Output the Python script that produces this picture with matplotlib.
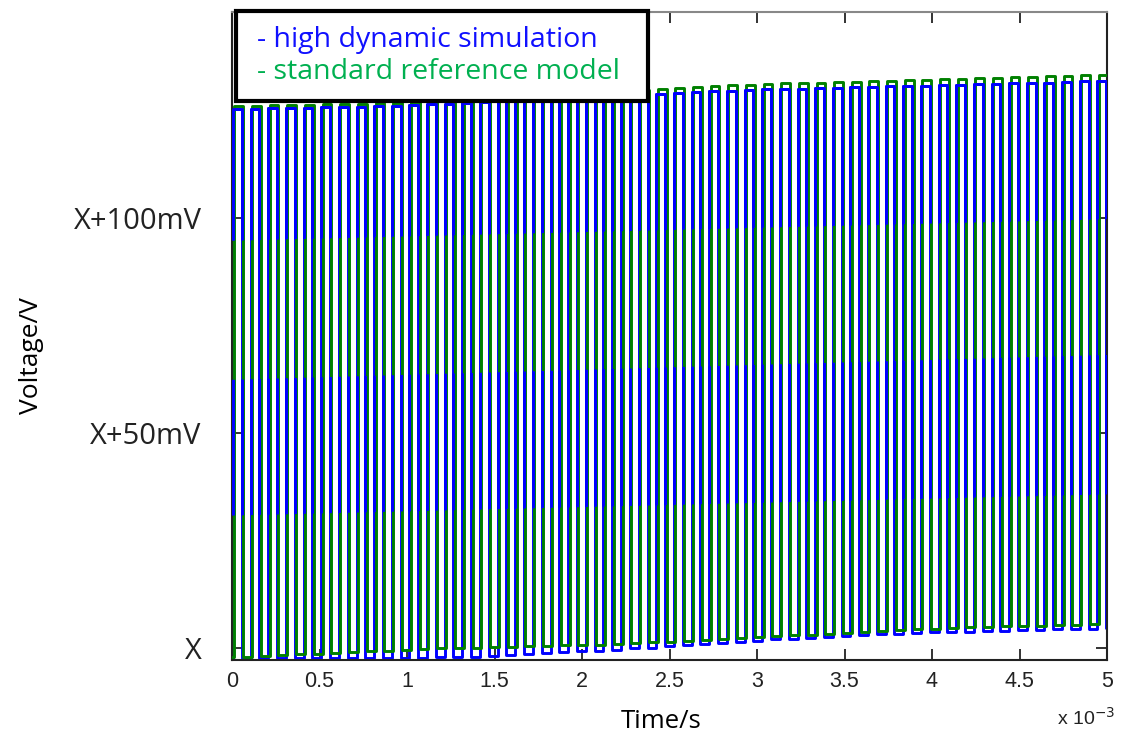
import matplotlib
matplotlib.use("Agg")
import matplotlib.pyplot as plt
from matplotlib.patches import Rectangle, PathPatch
from matplotlib.path import Path
import numpy as np

# ---------------- data (mV relative to X, time in ms) ----------------
pulse_period_ms = 0.1008
pulse_high_ms = 0.050
blue_first_edge_ms = 0.006
green_first_edge_ms = 0.014

blue_high = [125.3, 125.4, 125.5, 125.5, 125.6, 125.7, 125.8, 125.9, 126.0, 126.1,
             126.2, 126.4, 126.5, 126.7, 126.9, 127.1, 127.3, 127.5, 127.7, 127.9,
             128.1, 128.3, 128.5, 128.7, 128.9, 129.1, 129.3, 129.5, 129.6, 129.8,
             129.9, 130.0, 130.1, 130.2, 130.3, 130.4, 130.5, 130.6, 130.7, 130.8,
             130.9, 131.0, 131.1, 131.2, 131.3, 131.4, 131.5, 131.6, 131.8, 131.9]
blue_low = [-2.4, -2.4, -2.4, -2.4, -2.4, -2.4, -2.4, -2.4, -2.3, -2.3,
            -2.3, -2.2, -2.1, -2.0, -1.8, -1.6, -1.4, -1.2, -1.0, -0.8,
            -0.6, -0.4, -0.1, 0.1, 0.4, 0.7, 0.9, 1.2, 1.5, 1.7,
            2.0, 2.2, 2.4, 2.6, 2.8, 3.0, 3.2, 3.3, 3.5, 3.6,
            3.7, 3.8, 3.9, 4.0, 4.1, 4.2, 4.3, 4.4, 4.5, 4.6]
green_high = [126.0, 126.1, 126.2, 126.3, 126.3, 126.4, 126.5, 126.6, 126.7, 126.8,
              126.9, 127.1, 127.3, 127.5, 127.7, 127.9, 128.1, 128.3, 128.5, 128.7,
              128.9, 129.2, 129.5, 129.8, 130.1, 130.3, 130.5, 130.7, 130.9, 131.0,
              131.2, 131.3, 131.4, 131.5, 131.6, 131.7, 131.8, 131.9, 132.0, 132.2,
              132.3, 132.4, 132.5, 132.6, 132.7, 132.8, 132.9, 133.0, 133.2, 133.3]
green_low = [-2.1, -1.9, -1.7, -1.5, -1.3, -1.2, -1.0, -0.8, -0.6, -0.4,
             -0.3, -0.1, 0.0, 0.1, 0.2, 0.3, 0.4, 0.5, 0.6, 0.7,
             0.8, 0.9, 1.1, 1.3, 1.5, 1.7, 1.9, 2.1, 2.3, 2.5,
             2.7, 2.9, 3.1, 3.3, 3.5, 3.7, 3.9, 4.1, 4.3, 4.5,
             4.7, 4.8, 4.9, 5.0, 5.1, 5.2, 5.3, 5.4, 5.6, 5.7]

x_ticks = [0, 0.5, 1, 1.5, 2, 2.5, 3, 3.5, 4, 4.5, 5]
x_tick_labels = ["0", "0.5", "1", "1.5", "2", "2.5", "3", "3.5", "4", "4.5", "5"]
y_ticks = [0, 50, 100]
y_tick_labels = ["X", "X+50mV", "X+100mV"]
legend_labels = ["- high dynamic simulation", "- standard reference model"]

# style: horizontal bands (in mV, at left/right edge) where the blue trace
# visually lies on top of the green one in the reference rendering
blue_top_bands = [((93.7, 160.0), (100.7, 160.0)), ((29.8, 61.2), (36.7, 69.3))]


def square_wave(first_edge, highs, lows):
    t = [0.0]
    v = [lows[0]]
    for k, (hi, lo) in enumerate(zip(highs, lows)):
        rise = first_edge + k * pulse_period_ms
        fall = rise + pulse_high_ms
        prev_lo = lows[k - 1] if k > 0 else lows[0]
        t += [rise, rise, fall, fall]
        v += [prev_lo, hi, hi, lo]
    t.append(5.2)
    v.append(lows[-1])
    return np.array(t), np.array(v)


W, H = 1122, 738
fig = plt.figure(figsize=(W / 100, H / 100), dpi=100)
ax = fig.add_axes([232 / W, 78 / H, 875 / W, 648 / H])
ax.set_xlim(0, 5)
ax.set_ylim(-2.8, 147.9)

tb, vb = square_wave(blue_first_edge_ms, blue_high, blue_low)
tg, vg = square_wave(green_first_edge_ms, green_high, green_low)
ax.plot(tb, vb, color="#0000ff", lw=2.1, zorder=2)
ax.plot(tg, vg, color="#008000", lw=2.1, zorder=3)
blue_top, = ax.plot(tb, vb, color="#0000ff", lw=2.1, zorder=4)

verts, codes = [], []
for (l0, l1), (r0, r1) in blue_top_bands:
    verts += [(-1, l0), (6, r0), (6, r1), (-1, l1), (-1, l0)]
    codes += [Path.MOVETO, Path.LINETO, Path.LINETO, Path.LINETO, Path.CLOSEPOLY]
clip = PathPatch(Path(verts, codes), transform=ax.transData, visible=False)
ax.add_patch(clip)
blue_top.set_clip_path(clip)

ax.set_xticks(x_ticks)
ax.set_xticklabels(x_tick_labels, fontfamily="Liberation Sans", fontsize=15.5)
ax.set_yticks(y_ticks)
ax.set_yticklabels(y_tick_labels, fontfamily="Open Sans", fontsize=21)
ax.tick_params(direction="in", length=8, width=1.3, top=True, right=True,
               colors="#222222")
ax.tick_params(axis="y", pad=22)
ax.tick_params(axis="x", pad=8)
for s in ax.spines.values():
    s.set_linewidth(1.5)
    s.set_color("#222222")
ax.spines["top"].set_color("#888888")

ax.set_xlabel("Time/s", fontfamily="Open Sans", fontsize=18.5)
ax.set_ylabel("Voltage/V", fontfamily="Open Sans", fontsize=19)
ax.xaxis.set_label_coords(0.49, -0.076)
ax.yaxis.set_label_coords(-0.215, 0.47)

fig.text(1057 / W, 1 - 718 / H, r"x 10$^{-3}$", fontfamily="Liberation Sans",
         fontsize=14, color="#222222", va="center", ha="left")

# legend box
rect = Rectangle((236 / W, 1 - 101 / H), (648 - 236) / W, (101 - 11) / H,
                 transform=fig.transFigure, facecolor="white", edgecolor="black",
                 lw=3, zorder=10)
fig.add_artist(rect)
fig.text(257 / W, 1 - 40 / H, legend_labels[0], color="#1010ff",
         fontfamily="Open Sans", fontsize=20.5, va="center", ha="left", zorder=11)
fig.text(257 / W, 1 - 72 / H, legend_labels[1], color="#00b050",
         fontfamily="Open Sans", fontsize=20.5, va="center", ha="left", zorder=11)

fig.savefig("out.png", dpi=100)
